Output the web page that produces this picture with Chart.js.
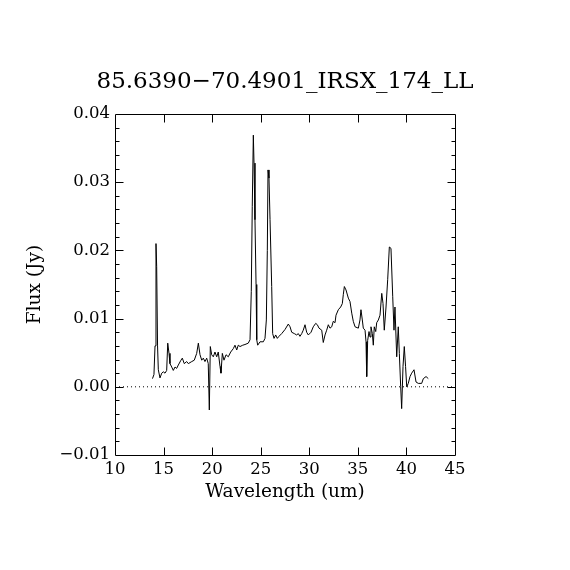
<!DOCTYPE html>
<html>
<head>
<meta charset="utf-8">
<script src="https://cdn.jsdelivr.net/npm/chart.js@4"></script>
<style>
  html, body { margin: 0; padding: 0; background: #ffffff; }
  #wrap { width: 570px; height: 570px; }
</style>
</head>
<body>
<div id="wrap"><canvas id="c" width="570" height="570"></canvas></div>
<script>
const chartTitle = "85.6390\u221270.4901_IRSX_174_LL";
const xTitle = "Wavelength (um)";
const yTitle = "Flux (Jy)";

const wavelength = [
  13.86, 14.01, 14.12, 14.22, 14.29, 14.38, 14.46, 14.63, 14.81, 14.97,
  15.15, 15.32, 15.43, 15.56, 15.66, 15.84, 16.00, 16.18, 16.35, 16.52,
  16.79, 16.93, 17.13, 17.38, 17.55, 17.90, 18.16, 18.41, 18.58, 18.75,
  18.93, 19.09, 19.26, 19.44, 19.60, 19.71, 19.81, 19.95, 20.12, 20.29,
  20.47, 20.63, 20.81, 20.91, 21.05, 21.22, 21.43, 21.66, 21.91, 22.18,
  22.35, 22.53, 22.69, 22.87, 23.15, 23.38, 23.72, 23.90, 24.03, 24.13,
  24.24, 24.31, 24.41, 24.52, 24.59, 24.69, 24.93, 25.27, 25.44, 25.58,
  25.68, 25.75, 25.85, 25.96, 26.13, 26.23, 26.37, 26.54, 26.71, 26.88,
  27.16, 27.50, 27.84, 28.02, 28.19, 28.46, 28.70, 28.87, 29.04, 29.22,
  29.38, 29.56, 29.73, 29.90, 30.18, 30.41, 30.66, 30.83, 31.00, 31.28,
  31.44, 31.62, 31.79, 31.96, 32.13, 32.31, 32.47, 32.65, 32.75, 32.99,
  33.23, 33.40, 33.50, 33.61, 33.78, 34.02, 34.19, 34.37, 34.53, 34.71,
  35.05, 35.22, 35.32, 35.46, 35.56, 35.74, 35.84, 35.91, 36.01, 36.15,
  36.25, 36.35, 36.49, 36.59, 36.69, 36.84, 36.94, 37.11, 37.28, 37.46,
  37.59, 37.72, 37.90, 38.07, 38.24, 38.41, 38.59, 38.72, 38.82, 39.00,
  39.16, 39.27, 39.41, 39.51, 39.65, 39.78, 39.91, 40.03, 40.19, 40.37,
  40.54, 40.78, 40.99, 41.22, 41.57, 41.74, 42.02, 42.25
];

const flux = [
  0.0012, 0.0018, 0.0060, 0.0210, 0.0176, 0.0060, 0.0025, 0.0013, 0.0020, 0.0022,
  0.0020, 0.0024, 0.0064, 0.0049, 0.0034, 0.0029, 0.0024, 0.0029, 0.0027, 0.0032,
  0.0039, 0.0042, 0.0034, 0.0037, 0.0034, 0.0037, 0.0039, 0.0049, 0.0064, 0.0047,
  0.0039, 0.0042, 0.0037, 0.0042, 0.0034, -0.0034, 0.0059, 0.0047, 0.0044, 0.0051,
  0.0044, 0.0051, 0.0030, 0.0020, 0.0049, 0.0039, 0.0047, 0.0044, 0.0051, 0.0056,
  0.0061, 0.0054, 0.0061, 0.0059, 0.0061, 0.0062, 0.0064, 0.0069, 0.0140, 0.0264,
  0.0369, 0.0328, 0.0245, 0.0150, 0.0069, 0.0061, 0.0066, 0.0066, 0.0071, 0.0098,
  0.0200, 0.0318, 0.0306, 0.0245, 0.0147, 0.0078, 0.0071, 0.0076, 0.0071, 0.0074,
  0.0078, 0.0084, 0.0092, 0.0088, 0.0080, 0.0078, 0.0076, 0.0078, 0.0074, 0.0078,
  0.0083, 0.0091, 0.0080, 0.0076, 0.0080, 0.0088, 0.0093, 0.0091, 0.0086, 0.0083,
  0.0065, 0.0076, 0.0083, 0.0091, 0.0086, 0.0088, 0.0096, 0.0094, 0.0105, 0.0113,
  0.0117, 0.0122, 0.0135, 0.0147, 0.0142, 0.0130, 0.0125, 0.0108, 0.0096, 0.0088,
  0.0086, 0.0098, 0.0113, 0.0098, 0.0086, 0.0083, 0.0066, 0.0015, 0.0068, 0.0081,
  0.0073, 0.0088, 0.0078, 0.0061, 0.0088, 0.0081, 0.0094, 0.0098, 0.0105, 0.0137,
  0.0122, 0.0083, 0.0117, 0.0157, 0.0205, 0.0203, 0.0132, 0.0083, 0.0117, 0.0044,
  0.0088, 0.0049, 0.0000, -0.0032, 0.0030, 0.0059, 0.0030, 0.0000, 0.0005, 0.0015,
  0.0020, 0.0025, 0.0007, 0.0005, 0.0005, 0.0012, 0.0015, 0.0012
];

const xRange = [10, 45];
const yRange = [-0.01, 0.04];
const xMajorStep = 5;
const yMajorStep = 0.01;
const yMinorStep = 0.002;

const FONT = "'DejaVu Serif', 'Liberation Serif', serif";

const spectrum = wavelength.map((w, i) => ({ x: w, y: flux[i] }));
const zeroLine = [{ x: xRange[0], y: 0 }, { x: xRange[1], y: 0 }];

const frameTicks = {
  id: 'frameTicks',
  afterDatasetsDraw(chart) {
    const { ctx, chartArea: a, scales: { x, y } } = chart;
    ctx.save();
    ctx.strokeStyle = '#000';
    ctx.lineWidth = 1;
    ctx.beginPath();
    const L = Math.round(a.left) + 0.5, R = Math.round(a.right) + 0.5;
    const T = Math.round(a.top) + 0.5, B = Math.round(a.bottom) + 0.5;
    ctx.rect(L, T, R - L, B - T);
    for (let v = xRange[0] + xMajorStep; v < xRange[1] - 1e-9; v += xMajorStep) {
      const px = Math.round(x.getPixelForValue(v)) + 0.5;
      ctx.moveTo(px, B); ctx.lineTo(px, B - 8);
      ctx.moveTo(px, T); ctx.lineTo(px, T + 8);
    }
    const n = Math.round((yRange[1] - yRange[0]) / yMinorStep);
    for (let i = 1; i < n; i++) {
      const v = yRange[0] + i * yMinorStep;
      const major = Math.abs(v / yMajorStep - Math.round(v / yMajorStep)) < 1e-6;
      const len = major ? 8 : 4;
      const py = Math.round(y.getPixelForValue(v)) + 0.5;
      ctx.moveTo(L, py); ctx.lineTo(L + len, py);
      ctx.moveTo(R, py); ctx.lineTo(R - len, py);
    }
    ctx.stroke();
    ctx.restore();
  }
};

const noGrid = { display: false, drawTicks: false, tickLength: 0 };

new Chart(document.getElementById('c'), {
  type: 'scatter',
  data: {
    datasets: [
      {
        label: 'zero',
        data: zeroLine,
        showLine: true,
        borderColor: '#000',
        borderWidth: 1,
        borderDash: [1, 3],
        pointRadius: 0,
        fill: false
      },
      {
        label: 'spectrum',
        data: spectrum,
        showLine: true,
        borderColor: '#000',
        borderWidth: 1,
        pointRadius: 0,
        tension: 0,
        fill: false
      }
    ]
  },
  options: {
    responsive: false,
    animation: false,
    devicePixelRatio: 1,
    layout: { padding: 0 },
    plugins: {
      legend: { display: false },
      tooltip: { enabled: false },
      title: {
        display: true,
        text: chartTitle,
        color: '#000',
        font: { family: FONT, size: 23, weight: 'normal', lineHeight: 1.2 },
        padding: { top: 68, bottom: 18.4 }
      }
    },
    scales: {
      x: {
        type: 'linear',
        min: xRange[0],
        max: xRange[1],
        afterFit(s) { s.height = 115; },
        grid: noGrid,
        border: { display: false },
        ticks: {
          stepSize: xMajorStep,
          color: '#000',
          padding: 5,
          maxRotation: 0,
          font: { family: FONT, size: 16.5 },
          callback: v => String(v)
        },
        title: {
          display: true,
          text: xTitle,
          color: '#000',
          font: { family: FONT, size: 18.5 },
          padding: { top: 0, bottom: 67 }
        }
      },
      y: {
        type: 'linear',
        position: 'left',
        min: yRange[0],
        max: yRange[1],
        afterFit(s) { s.width = 115; },
        grid: noGrid,
        border: { display: false },
        ticks: {
          stepSize: yMajorStep,
          color: '#000',
          padding: 5,
          font: { family: FONT, size: 16.5 },
          callback: v => {
            const r = Math.round(v * 100) / 100;
            const s = Math.abs(r).toFixed(2);
            return r < 0 ? '\u2212' + s : s;
          }
        },
        title: {
          display: true,
          text: yTitle,
          color: '#000',
          font: { family: FONT, size: 18.5 },
          padding: { top: 24, bottom: 0 }
        }
      },
      yRight: {
        type: 'linear',
        position: 'right',
        display: true,
        min: yRange[0],
        max: yRange[1],
        afterFit(s) { s.width = 115; },
        grid: noGrid,
        border: { display: false },
        ticks: { display: false },
        title: { display: false }
      }
    }
  },
  plugins: [frameTicks]
});
</script>
</body>
</html>
